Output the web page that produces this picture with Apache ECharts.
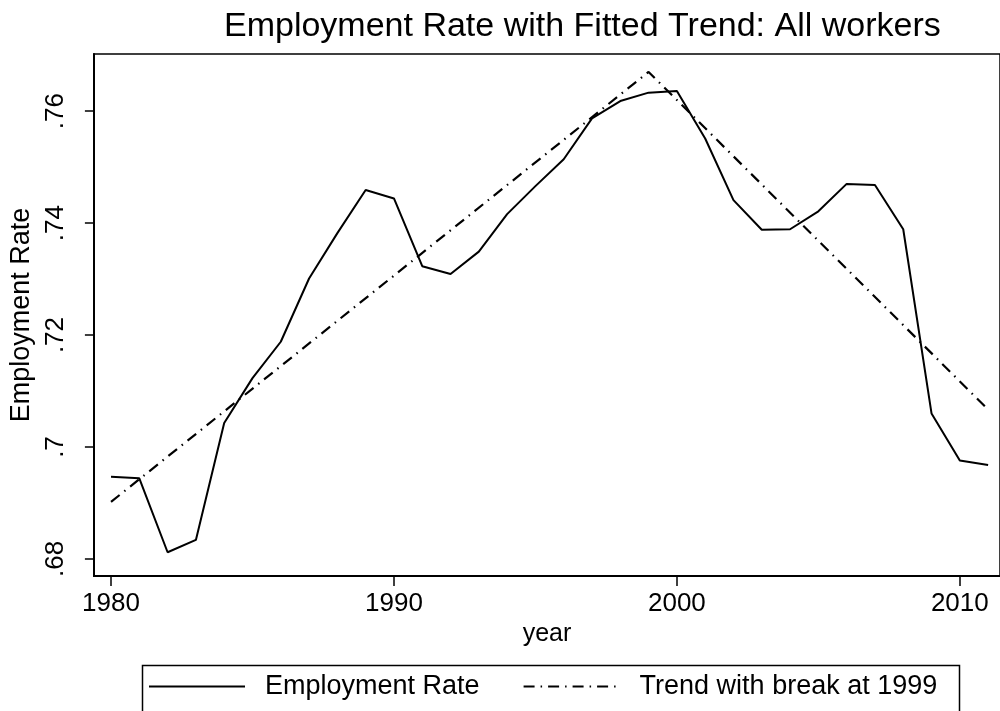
<!DOCTYPE html>
<html>
<head>
<meta charset="utf-8">
<script src="https://cdn.jsdelivr.net/npm/echarts@6/dist/echarts.min.js"></script>
<style>html,body{margin:0;padding:0;background:#fff}#c{width:1000px;height:711px}</style>
</head>
<body>
<div id="c"></div>
<script>
const years = [1980,1981,1982,1983,1984,1985,1986,1987,1988,1989,1990,1991,1992,1993,1994,1995,1996,1997,1998,1999,2000,2001,2002,2003,2004,2005,2006,2007,2008,2009,2010,2011];
const employmentRate = [0.6947,0.6944,0.6812,0.6834,0.7043,0.7123,0.7188,0.7301,0.7382,0.7459,0.7444,0.7323,0.7309,0.7349,0.7416,0.7466,0.7514,0.7587,0.7618,0.7633,0.7636,0.7551,0.7441,0.7388,0.7389,0.7421,0.7470,0.7468,0.7389,0.7060,0.6976,0.6968];
const trendYears = [1980,1999,2011];
const trendValues = [0.6902,0.7670,0.7067];
const xTicks = [1980,1990,2000,2010];
const yTicks = [0.68,0.70,0.72,0.74,0.76];
const yTickLabels = ['.68','.7','.72','.74','.76'];
const seriesNames = ['Employment Rate','Trend with break at 1999'];

const FONT = 'Liberation Sans, Arial, sans-serif';
const chart = echarts.init(document.getElementById('c'), null, {renderer:'canvas'});
const option = {
  animation: false,
  backgroundColor: '#ffffff',
  title: {
    text: 'Employment Rate with Fitted Trend: All workers',
    left: 224, top: 10, padding: 0,
    textStyle: {fontFamily: FONT, fontSize: 34, fontWeight: 'normal', color: '#000'}
  },
  grid: {left: 83.3, top: 54, right: -4, bottom: 135, show: true, borderColor: '#000', borderWidth: 1.5, backgroundColor: 'transparent', containLabel: false},
  xAxis: {
    type: 'value', min: 1979.395, max: 2011.42,
    name: 'year', nameLocation: 'middle', nameGap: 41,
    nameTextStyle: {fontFamily: FONT, fontSize: 25, color: '#000'},
    axisLine: {show: true, onZero: false, lineStyle: {color: '#000', width: 2}},
    axisTick: {show: true, customValues: xTicks, length: 10, lineStyle: {color: '#000', width: 1.5}},
    axisLabel: {customValues: xTicks, margin: 15, fontFamily: FONT, fontSize: 26, color: '#000', formatter: v => String(Math.round(v))},
    splitLine: {show: false}
  },
  yAxis: {
    type: 'value', min: 0.67696, max: 0.7702,
    name: 'Employment Rate', nameLocation: 'middle', nameGap: 58, nameRotate: 90,
    nameTextStyle: {fontFamily: FONT, fontSize: 27, color: '#000'},
    axisLine: {show: true, onZero: false, lineStyle: {color: '#000', width: 2}},
    axisTick: {show: true, customValues: yTicks, length: 9, lineStyle: {color: '#000', width: 1.5}},
    axisLabel: {customValues: yTicks, rotate: 90, margin: 25, fontFamily: FONT, fontSize: 26, color: '#000',
      formatter: v => { const i = yTicks.findIndex(t => Math.abs(t - v) < 1e-6); return i >= 0 ? yTickLabels[i] : ''; }},
    splitLine: {show: false}
  },
  legend: {
    left: 148, top: 673, padding: 0, itemGap: 43, itemWidth: 96, itemHeight: 14,
    itemStyle: {color: 'rgba(0,0,0,0)', borderWidth: 0, opacity: 0},
    textStyle: {fontFamily: FONT, fontSize: 27, color: '#000', padding: [0,0,0,15]},
    data: seriesNames
  },
  graphic: [{type: 'rect', left: 140, top: 663, shape: {width: 817, height: 50}, style: {fill: 'none', stroke: '#000', lineWidth: 1.5}, silent: true, z: 10}],
  series: [
    {name: seriesNames[0], type: 'line', symbol: 'none', data: years.map((y,i) => [y, employmentRate[i]]),
     lineStyle: {color: '#000', width: 2}, itemStyle: {color: '#000'}},
    {name: seriesNames[1], type: 'line', symbol: 'none', data: trendYears.map((y,i) => [y, trendValues[i]]),
     lineStyle: {color: '#000', width: 2.2, type: [11,6,1.5,6]}, itemStyle: {color: '#000'}}
  ]
};
chart.setOption(option);
</script>
</body>
</html>
